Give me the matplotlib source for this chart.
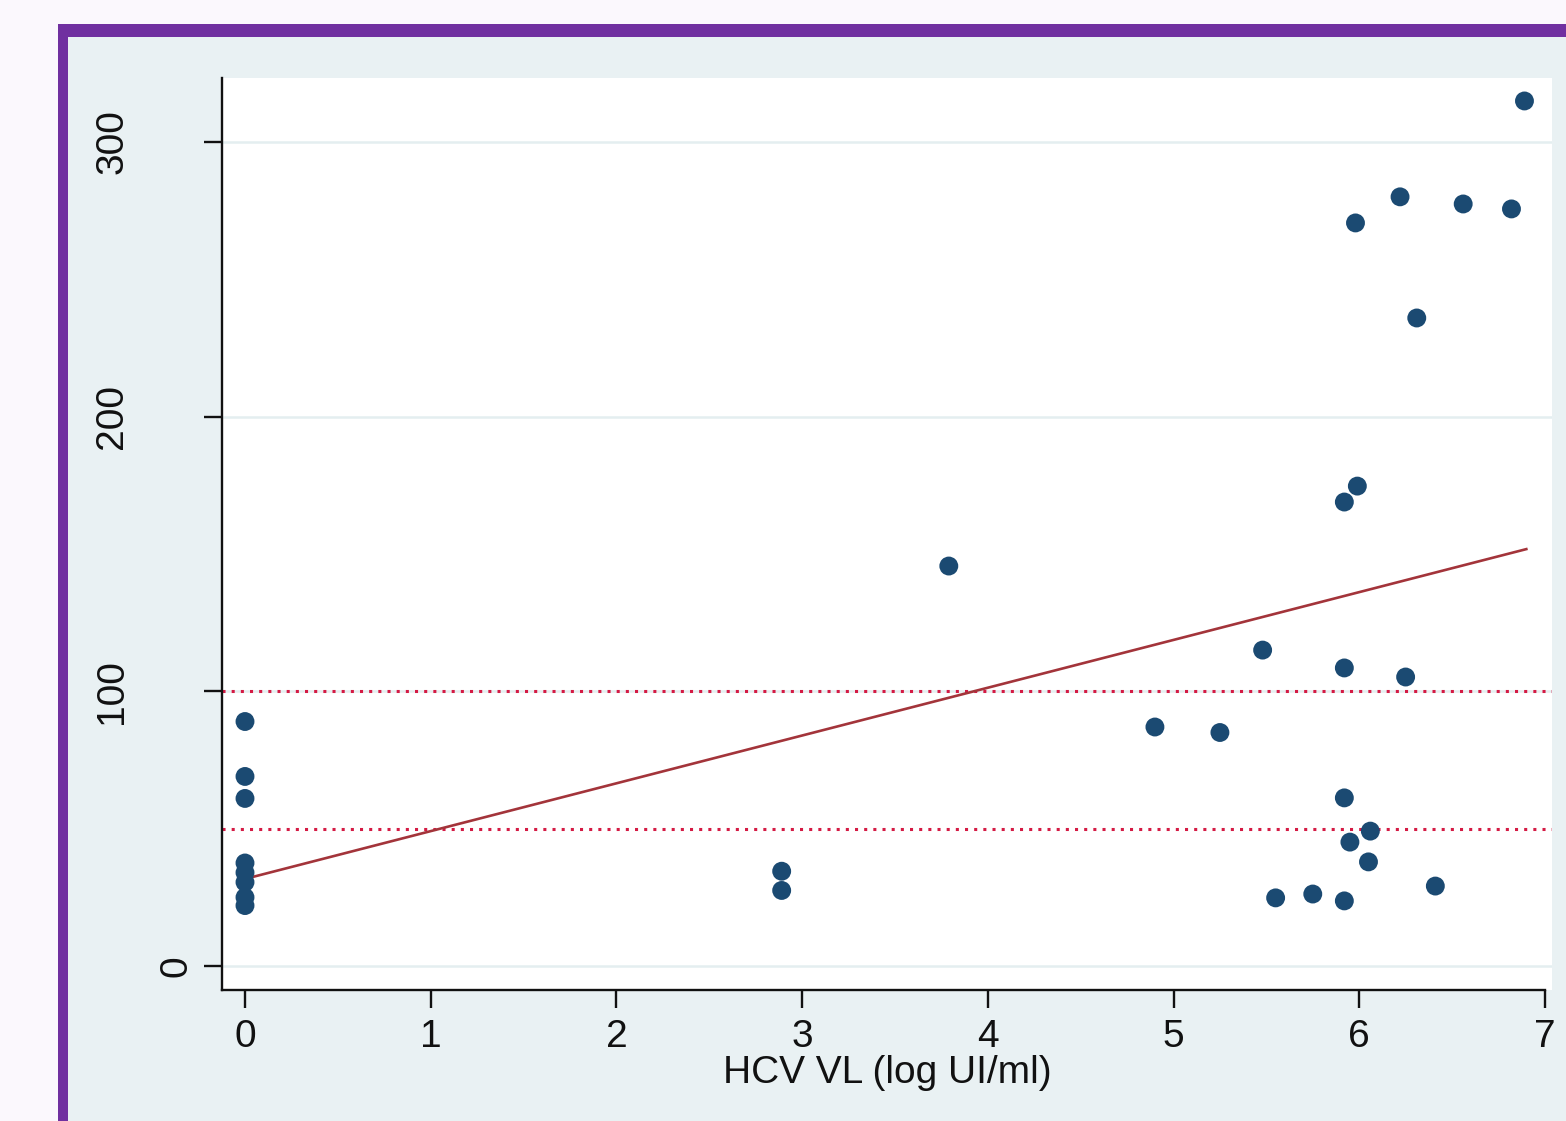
import matplotlib
matplotlib.use("Agg")
import matplotlib.pyplot as plt
from matplotlib.patches import Rectangle
import matplotlib.transforms as mtransforms
import numpy as np

plt.rcParams['font.family'] = ['Liberation Sans', 'DejaVu Sans']

# ---- data ----
hcv_vl = [0, 0, 0, 0, 0, 0, 0, 0,
          2.89, 2.89,
          3.79,
          4.90, 5.25, 5.48, 5.55, 5.75,
          5.92, 5.92, 5.92, 5.92, 5.95, 5.99, 5.98,
          6.05, 6.06, 6.22, 6.25, 6.31, 6.41, 6.56, 6.82, 6.89]
y_vals = [89, 69, 61, 37.5, 34, 30.5, 25, 22,
          34.5, 27.5,
          145.6,
          87, 85, 115, 24.8, 26.2,
          23.7, 61.2, 108.5, 168.9, 45.1, 174.7, 270.5,
          37.9, 49.1, 280, 105.2, 235.9, 29.1, 277.4, 275.6, 314.9]
fit_intercept = 31.7
fit_slope = 17.4
fit_x_range = [0, 6.9]
ref_levels = [50, 100]
x_ticks = [0, 1, 2, 3, 4, 5, 6, 7]
y_ticks = [0, 100, 200, 300]
x_label = "HCV VL (log UI/ml)"

W, H = 1566, 1121
fig = plt.figure(figsize=(W / 100, H / 100), dpi=100)
fig.patch.set_facecolor('#fbf8fd')

# purple frame (left & top) and inner panel
fig.patches.append(Rectangle((58 / W, 0), 1.0, 1 - 24 / H, transform=fig.transFigure,
                             facecolor='#7030a0', edgecolor='none', zorder=-2))
fig.patches.append(Rectangle((68 / W, 0), 1.0, 1 - 37 / H, transform=fig.transFigure,
                             facecolor='#e9f1f3', edgecolor='none', zorder=-1))

ax = fig.add_axes([222 / W, 1 - 990 / H, (1552 - 222) / W, (990 - 78) / H])
ax.set_facecolor('white')

x0 = (222 - 245) / 185.7
x1 = (1552 - 245) / 185.7
ax.set_xlim(x0, x1)
ax.set_ylim((966 - 990) / 2.747, (966 - 78) / 2.747)

# gridlines
for yv in y_ticks:
    ax.axhline(yv, color='#e4eef0', lw=1.8, zorder=1)

# reference dotted lines
for lv in ref_levels:
    ax.axhline(lv, color='#d41a44', lw=2.2, linestyle=(0, (1, 2.0)), zorder=2)

# regression line
fx = np.array(fit_x_range)
ax.plot(fx, fit_intercept + fit_slope * fx, color='#a3343a', lw=1.9, zorder=3)

# points
ax.scatter(hcv_vl, y_vals, s=185, color='#1b4a72', edgecolors='none', zorder=4)

# spines
for s in ['top', 'right']:
    ax.spines[s].set_visible(False)
for s in ['left', 'bottom']:
    ax.spines[s].set_linewidth(1.7)
    ax.spines[s].set_color('#111111')
ax.spines['bottom'].set_bounds(x0, 7)

ax.set_xticks(x_ticks)
ax.set_xticklabels([str(t) for t in x_ticks])
ax.set_yticks(y_ticks)
ax.set_yticklabels([str(t) for t in y_ticks], rotation=90, va='center')
ax.tick_params(axis='both', direction='out', length=13, width=1.7, color='#111111',
               labelsize=28, labelcolor='#111111')
ax.tick_params(axis='x', pad=8)
ax.tick_params(axis='y', pad=53)

# the "0" label sits closer to the axis in the reference
lbls = ax.get_yticklabels()
off = mtransforms.ScaledTranslation(64 / 100, 0, fig.dpi_scale_trans)
lbls[0].set_transform(lbls[0].get_transform() + off)

ax.set_xlabel(x_label, fontsize=28, color='#111111', labelpad=0)

fig.savefig('out.png', dpi=100, facecolor=fig.get_facecolor())
